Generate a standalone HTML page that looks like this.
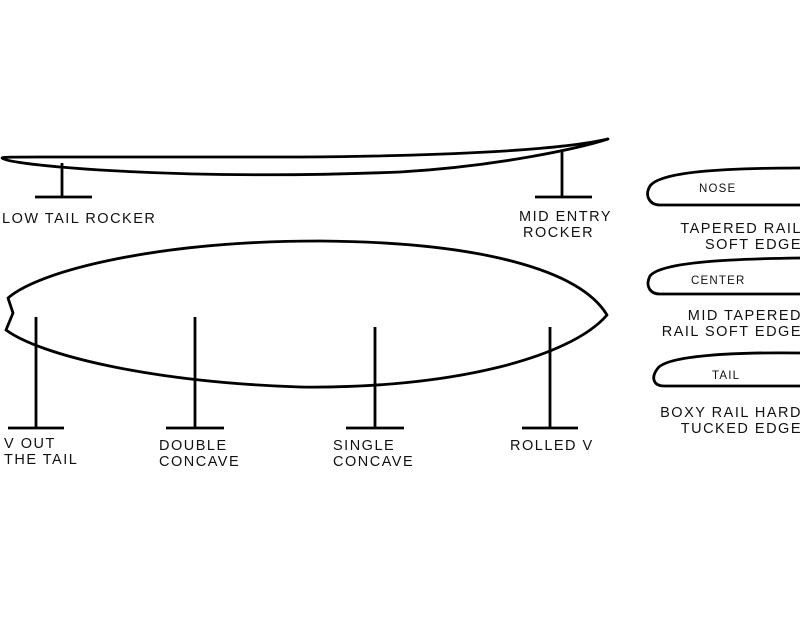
<!DOCTYPE html>
<html><head><meta charset="utf-8"><style>
html,body{margin:0;padding:0;background:#fff;}
svg{display:block;}
text{font-family:"Liberation Sans",sans-serif;font-size:14.5px;fill:#111;letter-spacing:1.5px;}
.s{font-size:11.5px;letter-spacing:1.2px;}
.r{text-anchor:end;}
</style></head><body>
<svg width="800" height="631" viewBox="0 0 800 631" xmlns="http://www.w3.org/2000/svg">
<g fill="none" stroke="#000" stroke-width="2.8" stroke-linejoin="round">
<path d="M608,139 C560,150 450,156 300,157 L40,157 C15,157 2,157 2,158 C2,161 40,166 100,170 C200,176 300,176 400,172 C500,166 580,148 608,139 Z"/>
<path d="M62,163 V197 M35,197 H92"/>
<path d="M562,152 V197 M535,197 H592"/>
<path d="M607,315 C580,270 480,242 320,241 C160,241 40,270 8,298 L13,313 L6,330 C40,355 150,382 300,387 C450,389 570,358 607,315 Z"/>
<path d="M36,317 V428 M8,428 H64"/>
<path d="M195,317 V428 M166,428 H224"/>
<path d="M375,327 V428 M346,428 H404"/>
<path d="M550,327 V428 M522,428 H578"/>
<path d="M800,168 C720,168 660,172 650,186 C644,196 650,205 660,205 L800,205"/>
<path d="M800,258 C720,259 660,263 650,276 C645,286 650,294 660,294 L800,294"/>
<path d="M800,353 C730,352 668,356 658,368 C650,378 654,386 664,386 L800,386"/>
</g>
<text x="2" y="223">LOW TAIL ROCKER</text>
<text x="519" y="221">MID ENTRY</text>
<text x="523" y="237">ROCKER</text>
<text class="s" x="699" y="192">NOSE</text>
<text class="s" x="691" y="284">CENTER</text>
<text class="s" x="712" y="379">TAIL</text>
<text class="r" x="802" y="233">TAPERED RAIL</text>
<text class="r" x="802" y="249">SOFT EDGE</text>
<text class="r" x="802" y="320">MID TAPERED</text>
<text class="r" x="802" y="336">RAIL SOFT EDGE</text>
<text class="r" x="802" y="417">BOXY RAIL HARD</text>
<text class="r" x="802" y="433">TUCKED EDGE</text>
<text x="4" y="448">V OUT</text>
<text x="4" y="464">THE TAIL</text>
<text x="159" y="450">DOUBLE</text>
<text x="159" y="466">CONCAVE</text>
<text x="333" y="450">SINGLE</text>
<text x="333" y="466">CONCAVE</text>
<text x="510" y="450">ROLLED V</text>
</svg>
</body></html>
